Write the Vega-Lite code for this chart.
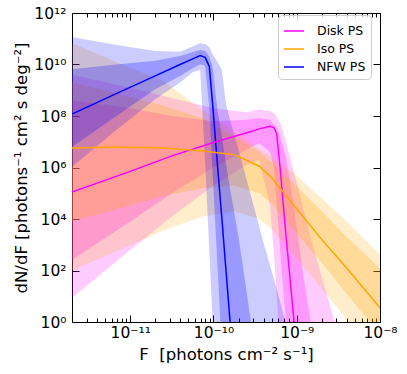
{
  "$schema": "https://vega.github.io/schema/vega-lite/v6.json",
  "width": 308,
  "height": 309,
  "autosize": {"type": "none"},
  "padding": {"left": 72, "top": 13, "right": 27, "bottom": 52},
  "config": {
    "view": {"stroke": "#000", "strokeWidth": 1},
    "font": "DejaVu Sans",
    "axis": {"domain": false, "grid": false, "tickColor": "#000", "tickWidth": 1, "labelFont": "DejaVu Sans", "labelFontSize": 15.5, "labelColor": "#000", "titleFont": "DejaVu Sans", "titleFontSize": 16.5, "titleFontWeight": "normal", "titleColor": "#000"}
  },
  "data": {"values": [
    {"s": "NFW PS", "x": 2.0e-12, "lo2": 1.05e6, "lo1": 6.31e6, "mid": 1.2e8, "hi1": 6.61e9, "hi2": 1.17e11},
    {"s": "NFW PS", "x": 6.31e-12, "lo2": 2.34e7, "lo1": 8.32e7, "mid": 6.61e8, "hi1": 9.77e9, "hi2": 6.03e10},
    {"s": "NFW PS", "x": 2.0e-11, "lo2": 4.47e8, "lo1": 1.10e9, "mid": 3.63e9, "hi1": 1.41e10, "hi2": 3.31e10},
    {"s": "NFW PS", "x": 3.98e-11, "lo2": 2.0e9, "lo1": 3.55e9, "mid": 1.0e10, "hi1": 2.14e10, "hi2": 3.16e10},
    {"s": "NFW PS", "x": 5.62e-11, "lo2": 5.01e9, "lo1": 7.08e9, "mid": 1.66e10, "hi1": 3.02e10, "hi2": 5.01e10},
    {"s": "NFW PS", "x": 6.92e-11, "lo2": 6.31e9, "lo1": 1.0e10, "mid": 2.24e10, "hi1": 3.63e10, "hi2": 6.76e10},
    {"s": "NFW PS", "x": 7.94e-11, "lo2": 1.58e6, "lo1": 8.91e9, "mid": 1.9e10, "hi1": 3.31e10, "hi2": 6.31e10},
    {"s": "NFW PS", "x": 8.91e-11, "lo2": 631, "lo1": 2.0e8, "mid": 8.5e9, "hi1": 2.0e10, "hi2": 4.79e10},
    {"s": "NFW PS", "x": 9.77e-11, "lo2": 1, "lo1": 6.31e5, "mid": 2.82e8, "hi1": 7.94e9, "hi2": 2.51e10},
    {"s": "NFW PS", "x": 1.12e-10, "lo2": 1e-4, "lo1": 126, "mid": 1.12e6, "hi1": 1.58e8, "hi2": 1.26e10},
    {"s": "NFW PS", "x": 1.26e-10, "lo2": 3.16e-8, "lo1": 0.1, "mid": 1.12e4, "hi1": 1.58e7, "hi2": 6.31e9},
    {"s": "NFW PS", "x": 1.41e-10, "lo2": 1e-11, "lo1": 7.94e-5, "mid": 112, "hi1": 1.58e6, "hi2": 3.16e8},
    {"s": "NFW PS", "x": 1.58e-10, "lo2": 1e-11, "lo1": 6.31e-8, "mid": 1.12, "hi1": 1.58e5, "hi2": 7.08e7},
    {"s": "NFW PS", "x": 2.0e-10, "lo2": 1e-11, "lo1": 1e-11, "mid": 1.12e-4, "hi1": 2.0e3, "hi2": 5.01e6},
    {"s": "NFW PS", "x": 2.82e-10, "lo2": 1e-11, "lo1": 1e-11, "mid": null, "hi1": 1, "hi2": 7.94e4},
    {"s": "NFW PS", "x": 3.98e-10, "lo2": 1e-11, "lo1": 1e-11, "mid": null, "hi1": 5.01e-4, "hi2": 1.26e3},
    {"s": "NFW PS", "x": 5.62e-10, "lo2": 1e-11, "lo1": 1e-11, "mid": null, "hi1": 2.51e-7, "hi2": 25.1},
    {"s": "NFW PS", "x": 7.94e-10, "lo2": 1e-11, "lo1": 1e-11, "mid": null, "hi1": 1.26e-10, "hi2": 0.398},
    {"s": "NFW PS", "x": 1.0e-9, "lo2": 1e-11, "lo1": 1e-11, "mid": null, "hi1": 1e-11, "hi2": 0.0251},

    {"s": "Disk PS", "x": 2.0e-12, "lo2": 8.51, "lo1": 257, "mid": 1.12e5, "hi1": 3.98e8, "hi2": 3.98e9},
    {"s": "Disk PS", "x": 1.0e-11, "lo2": 631, "lo1": 7.94e3, "mid": 7.08e5, "hi1": 2.0e8, "hi2": 1.26e9},
    {"s": "Disk PS", "x": 3.16e-11, "lo2": 1.26e4, "lo1": 1.0e5, "mid": 2.82e6, "hi1": 1.0e8, "hi2": 5.01e8},
    {"s": "Disk PS", "x": 1.0e-10, "lo2": 2.0e5, "lo1": 1.0e6, "mid": 9.33e6, "hi1": 6.31e7, "hi2": 2.0e8},
    {"s": "Disk PS", "x": 2.51e-10, "lo2": 1.26e6, "lo1": 5.01e6, "mid": 2.24e7, "hi1": 7.08e7, "hi2": 1.41e8},
    {"s": "Disk PS", "x": 3.55e-10, "lo2": 2.0e6, "lo1": 8.91e6, "mid": 3.16e7, "hi1": 8.32e7, "hi2": 1.78e8},
    {"s": "Disk PS", "x": 4.79e-10, "lo2": 3.16e4, "lo1": 3.98e6, "mid": 3.98e7, "hi1": 7.08e7, "hi2": 1.58e8},
    {"s": "Disk PS", "x": 5.37e-10, "lo2": 316, "lo1": 7.94e5, "mid": 3.5e7, "hi1": 4.47e7, "hi2": 1.26e8},
    {"s": "Disk PS", "x": 5.75e-10, "lo2": 10, "lo1": 3.98e4, "mid": 2.0e7, "hi1": 3.16e7, "hi2": 8.91e7},
    {"s": "Disk PS", "x": 6.31e-10, "lo2": 0.1, "lo1": 631, "mid": 1.0e6, "hi1": 1.58e7, "hi2": 5.62e7},
    {"s": "Disk PS", "x": 7.41e-10, "lo2": 1e-4, "lo1": 1, "mid": 2.51e3, "hi1": 2.51e6, "hi2": 1.0e7},
    {"s": "Disk PS", "x": 9.12e-10, "lo2": 1e-8, "lo1": 1e-4, "mid": 2.0, "hi1": 3.98e4, "hi2": 7.94e5},
    {"s": "Disk PS", "x": 1.2e-9, "lo2": 1e-12, "lo1": 1e-8, "mid": 1.58e-4, "hi1": 63.1, "hi2": 2.51e4},
    {"s": "Disk PS", "x": 1.58e-9, "lo2": 1e-12, "lo1": 1e-12, "mid": null, "hi1": 0.251, "hi2": 794},
    {"s": "Disk PS", "x": 2.82e-9, "lo2": 1e-12, "lo1": 1e-12, "mid": null, "hi1": 1e-5, "hi2": 1.2},
    {"s": "Disk PS", "x": 3.98e-9, "lo2": 1e-12, "lo1": 1e-12, "mid": null, "hi1": 1e-8, "hi2": 0.0158},

    {"s": "Iso PS", "x": 2.0e-12, "lo2": 100, "lo1": 7.94e3, "mid": 5.75e6, "hi1": 2.0e9, "hi2": 6.76e10},
    {"s": "Iso PS", "x": 6.31e-12, "lo2": 501, "lo1": 2.24e4, "mid": 6.31e6, "hi1": 7.94e8, "hi2": 1.41e10},
    {"s": "Iso PS", "x": 2.51e-11, "lo2": 3.55e3, "lo1": 7.94e4, "mid": 5.75e6, "hi1": 2.51e8, "hi2": 2.24e9},
    {"s": "Iso PS", "x": 7.41e-11, "lo2": 1.26e4, "lo1": 1.58e5, "mid": 4.37e6, "hi1": 7.94e7, "hi2": 1.70e8},
    {"s": "Iso PS", "x": 1.78e-10, "lo2": 2.0e4, "lo1": 2.0e5, "mid": 3.16e6, "hi1": 1.58e7, "hi2": 2.51e7},
    {"s": "Iso PS", "x": 3.55e-10, "lo2": 1.0e4, "lo1": 1.0e5, "mid": 1.12e6, "hi1": 3.98e6, "hi2": 5.01e6},
    {"s": "Iso PS", "x": 5.01e-10, "lo2": 3.98e3, "lo1": 3.98e4, "mid": 3.98e5, "hi1": 1.58e6, "hi2": 2.51e6},
    {"s": "Iso PS", "x": 9.12e-10, "lo2": 398, "lo1": 3.98e3, "mid": 3.55e4, "hi1": 2.51e5, "hi2": 6.31e5},
    {"s": "Iso PS", "x": 2.0e-9, "lo2": 20, "lo1": 200, "mid": 1.58e3, "hi1": 2.0e4, "hi2": 6.31e4},
    {"s": "Iso PS", "x": 3.98e-9, "lo2": 1.26, "lo1": 12.6, "mid": 126, "hi1": 2.0e3, "hi2": 7.94e3},
    {"s": "Iso PS", "x": 1.0e-8, "lo2": 0.0316, "lo1": 0.316, "mid": 3.55, "hi1": 126, "hi2": 398}
  ]},
  "encoding": {
    "x": {"field": "x", "type": "quantitative", "scale": {"type": "log", "domain": [2e-12, 1e-8]}}
  },
  "layer": [
    {
      "transform": [{"filter": "datum.s == 'Disk PS'"}],
      "mark": {"type": "area", "color": "#ff00ff", "opacity": 0.2, "clip": true},
      "encoding": {
        "x": {"field": "x", "type": "quantitative", "axis": {"orient": "bottom", "values": [1e-11, 1e-10, 1e-9, 1e-8], "tickSize": -7, "labelPadding": 10, "labelFlush": false, "labelExpr": "datum.value == 1e-11 ? '10⁻¹¹' : datum.value == 1e-10 ? '10⁻¹⁰' : datum.value == 1e-9 ? '10⁻⁹' : '10⁻⁸'", "title": "F\u00a0\u00a0[photons cm⁻² s⁻¹]", "titlePadding": 6}},
        "y": {"field": "lo2", "type": "quantitative", "scale": {"type": "log", "domain": [1, 1e12]}, "axis": {"orient": "left", "values": [1, 100, 1e4, 1e6, 1e8, 1e10, 1e12], "tickSize": -7, "labelPadding": 13, "labelFlush": false, "labelExpr": "'10' + (datum.value == 1 ? '⁰' : datum.value == 100 ? '²' : datum.value == 1e4 ? '⁴' : datum.value == 1e6 ? '⁶' : datum.value == 1e8 ? '⁸' : datum.value == 1e10 ? '¹⁰' : '¹²')", "title": "dN/dF [photons⁻¹ cm² s deg⁻²]", "titlePadding": 4}},
        "y2": {"field": "hi2"}
      }
    },
    {
      "transform": [{"filter": "datum.s == 'Disk PS'"}],
      "mark": {"type": "area", "color": "#ff00ff", "opacity": 0.25, "clip": true},
      "encoding": {
        "x": {"field": "x", "type": "quantitative", "axis": {"orient": "top", "values": [1e-11, 1e-10, 1e-9, 1e-8], "tickSize": -7, "labels": false, "title": null}},
        "y": {"field": "lo1", "type": "quantitative", "axis": {"orient": "right", "values": [1, 100, 1e4, 1e6, 1e8, 1e10, 1e12], "tickSize": -7, "labels": false, "title": null}},
        "y2": {"field": "hi1"}
      }
    },
    {
      "transform": [{"filter": "datum.s == 'Iso PS'"}],
      "mark": {"type": "area", "color": "#ffa500", "opacity": 0.2, "clip": true},
      "encoding": {
        "x": {"field": "x", "type": "quantitative", "axis": {"orient": "top", "values": [3e-12, 4e-12, 5e-12, 6e-12, 7e-12, 8e-12, 9e-12, 2e-11, 3e-11, 4e-11, 5e-11, 6e-11, 7e-11, 8e-11, 9e-11, 2e-10, 3e-10, 4e-10, 5e-10, 6e-10, 7e-10, 8e-10, 9e-10, 2e-9, 3e-9, 4e-9, 5e-9, 6e-9, 7e-9, 8e-9, 9e-9], "tickSize": -4, "labels": false, "title": null}},
        "y": {"field": "lo2", "type": "quantitative", "axis": null},
        "y2": {"field": "hi2"}
      }
    },
    {
      "transform": [{"filter": "datum.s == 'Iso PS'"}],
      "mark": {"type": "area", "color": "#ffa500", "opacity": 0.25, "clip": true},
      "encoding": {
        "x": {"field": "x", "type": "quantitative", "axis": {"orient": "bottom", "values": [3e-12, 4e-12, 5e-12, 6e-12, 7e-12, 8e-12, 9e-12, 2e-11, 3e-11, 4e-11, 5e-11, 6e-11, 7e-11, 8e-11, 9e-11, 2e-10, 3e-10, 4e-10, 5e-10, 6e-10, 7e-10, 8e-10, 9e-10, 2e-9, 3e-9, 4e-9, 5e-9, 6e-9, 7e-9, 8e-9, 9e-9], "tickSize": -4, "labels": false, "title": null}},
        "y": {"field": "lo1", "type": "quantitative", "axis": null},
        "y2": {"field": "hi1"}
      }
    },
    {
      "transform": [{"filter": "datum.s == 'NFW PS'"}],
      "mark": {"type": "area", "color": "#0000ff", "opacity": 0.2, "clip": true},
      "encoding": {
        "x": {"field": "x", "type": "quantitative", "axis": null},
        "y": {"field": "lo2", "type": "quantitative", "axis": null},
        "y2": {"field": "hi2"}
      }
    },
    {
      "transform": [{"filter": "datum.s == 'NFW PS'"}],
      "mark": {"type": "area", "color": "#0000ff", "opacity": 0.25, "clip": true},
      "encoding": {
        "x": {"field": "x", "type": "quantitative", "axis": null},
        "y": {"field": "lo1", "type": "quantitative", "axis": null},
        "y2": {"field": "hi1"}
      }
    },
    {
      "mark": {"type": "line", "strokeWidth": 1.5, "clip": true},
      "encoding": {
        "x": {"field": "x", "type": "quantitative", "axis": null},
        "y": {"field": "mid", "type": "quantitative", "axis": null},
        "color": {"field": "s", "type": "nominal", "scale": {"domain": ["Disk PS", "Iso PS", "NFW PS"], "range": ["#ff00ff", "#ffa500", "#0000ff"]}, "legend": {"orient": "none", "legendX": 206, "legendY": 2, "title": null, "symbolType": "stroke", "symbolSize": 400, "symbolStrokeWidth": 1.5, "labelFontSize": 12.5, "labelFont": "DejaVu Sans", "labelColor": "#000", "padding": 5, "rowPadding": -2, "strokeColor": "#cccccc", "cornerRadius": 4, "fillColor": "rgba(255,255,255,0.8)", "labelOffset": 12}}
      }
    }
  ],
  "resolve": {"axis": {"x": "independent", "y": "independent"}}
}
